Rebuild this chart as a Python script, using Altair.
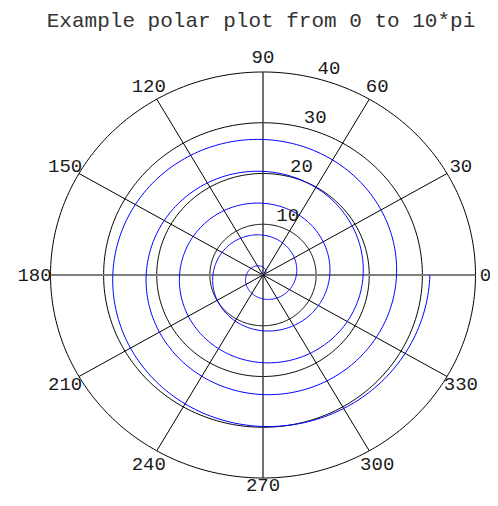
import numpy as np
import pandas as pd
import altair as alt

# ---- data ----
title_text = "Example polar plot from 0 to 10*pi"
circle_radii = [10, 20, 30, 40]
spoke_angles = [0, 30, 60, 90, 120, 150, 180, 210, 240, 270, 300, 330]
angle_labels = ["0", "30", "60", "90", "120", "150", "180", "210", "240", "270", "300", "330"]
radial_labels = ["10", "20", "30", "40"]
radial_label_angle = 75
theta_start = 0.0
theta_end = 10 * np.pi
theta = np.linspace(theta_start, theta_end, 1200)
rho = theta  # the plotted function r = theta

outer_r = 40
label_r = 43

# ---- tables ----
circ_rows = []
phi = np.linspace(0, 2 * np.pi, 361)
for r in circle_radii:
    for i, p in enumerate(phi):
        circ_rows.append({"r": r, "i": i, "x": r * np.cos(p), "y": r * np.sin(p)})
circ_df = pd.DataFrame(circ_rows)

spk_rows = []
for a in spoke_angles:
    rad = np.deg2rad(a)
    if a in (0, 180):
        col, w = "#808080", 2.0
    elif a in (90, 270):
        col, w = "#404040", 1.5
    else:
        col, w = "#000000", 1.0
    spk_rows.append({"x": 0.0, "y": 0.0, "x2": outer_r * np.cos(rad), "y2": outer_r * np.sin(rad),
                     "col": col, "w": w})
spk_df = pd.DataFrame(spk_rows)

spiral_df = pd.DataFrame({"i": np.arange(len(theta)),
                          "x": rho * np.cos(theta), "y": rho * np.sin(theta)})

alab_df = pd.DataFrame({"t": angle_labels, "a": spoke_angles,
                        "x": [label_r * np.cos(np.deg2rad(a)) for a in spoke_angles],
                        "y": [label_r * np.sin(np.deg2rad(a)) for a in spoke_angles]})

ra = np.deg2rad(radial_label_angle)
rlab_df = pd.DataFrame({"t": radial_labels,
                        "x": [r * np.cos(ra) for r in circle_radii],
                        "y": [r * np.sin(ra) for r in circle_radii]})

title_df = pd.DataFrame({"t": [title_text]})

# ---- scales ----
W, H = 482, 490
px_x, px_y = 5.3125, 5.075
cx, cy = 255, 267  # center inside view
xs = alt.Scale(domain=[-cx / px_x, (W - cx) / px_x], nice=False, zero=False)
ys = alt.Scale(domain=[-(H - cy) / px_y, cy / px_y], nice=False, zero=False)

X = lambda f="x": alt.X(f"{f}:Q", scale=xs, axis=None)
Y = lambda f="y": alt.Y(f"{f}:Q", scale=ys, axis=None)

circles = alt.Chart(circ_df).mark_line(color="black", strokeWidth=1).encode(
    x=X(), y=Y(), detail="r:N", order="i:Q")

spokes = alt.Chart(spk_df).mark_rule().encode(
    x=X(), y=Y(), x2="x2:Q", y2="y2:Q",
    color=alt.Color("col:N", scale=None),
    strokeWidth=alt.StrokeWidth("w:Q", scale=None))

spiral = alt.Chart(spiral_df).mark_line(color="#0000ff", strokeWidth=1).encode(
    x=X(), y=Y(), order="i:Q")

lab_style = dict(font="Liberation Mono", fontSize=19, color="#1a1a1a",
                 align="center", baseline="middle")

alabels = alt.Chart(alab_df).transform_filter(
    "datum.a != 0 && datum.a != 270"
).mark_text(**lab_style).encode(x=X(), y=Y(), text="t:N")

alabel0 = alt.Chart(alab_df).transform_filter("datum.a == 0").mark_text(
    **lab_style, dx=-6).encode(x=X(), y=Y(), text="t:N")

alabel270 = alt.Chart(alab_df).transform_filter("datum.a == 270").mark_text(
    **lab_style, dy=-8).encode(x=X(), y=Y(), text="t:N")

rlabels = alt.Chart(rlab_df).mark_text(**lab_style, dx=11, dy=-11).encode(
    x=X(), y=Y(), text="t:N")

title = alt.Chart(title_df).mark_text(
    font="Liberation Mono", fontSize=21, color="#333333", align="center", baseline="alphabetic"
).encode(x=alt.value(253), y=alt.value(19), text="t:N")

chart = alt.layer(circles, spokes, spiral, alabels, alabel0, alabel270, rlabels, title).properties(
    width=W, height=H, autosize=alt.AutoSizeParams(type="none"), padding=0,
    background="white"
).configure_view(stroke=None)

chart.save("out.html", embed_options={"renderer": "svg", "actions": False})
